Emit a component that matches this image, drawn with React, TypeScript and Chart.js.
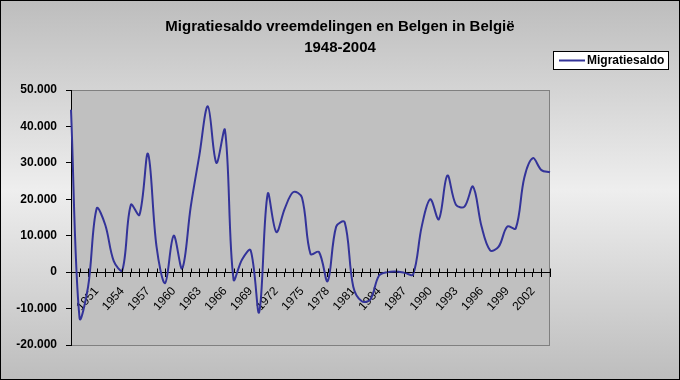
import React, { useEffect, useRef } from 'react';
import { Chart, registerables } from 'chart.js';

Chart.register(...registerables);

const years: string[] = [
  '1948', '1949', '1950', '1951', '1952', '1953', '1954', '1955', '1956', '1957',
  '1958', '1959', '1960', '1961', '1962', '1963', '1964', '1965', '1966', '1967',
  '1968', '1969', '1970', '1971', '1972', '1973', '1974', '1975', '1976', '1977',
  '1978', '1979', '1980', '1981', '1982', '1983', '1984', '1985', '1986', '1987',
  '1988', '1989', '1990', '1991', '1992', '1993', '1994', '1995', '1996', '1997',
  '1998', '1999', '2000', '2001', '2002', '2003', '2004',
];

const migratiesaldo: number[] = [
  44600, -12600, -4000, 17500, 13000, 3000, 500, 18500, 15700, 32500,
  7000, -3000, 10000, 1000, 18000, 32000, 45500, 30000, 39000, -2000,
  3500, 6000, -11000, 21500, 11000, 17500, 22000, 20500, 5000, 5500,
  -2500, 12500, 13700, -4000, -8000, -7500, -1000, 0, 200, -200,
  -600, 12500, 20000, 14500, 26500, 18500, 18000, 23500, 12500, 6000,
  7000, 12500, 12000, 26000, 31300, 28000, 27400,
];

const labeledYears: string[] = [
  '1951', '1954', '1957', '1960', '1963', '1966', '1969', '1972', '1975', '1978',
  '1981', '1984', '1987', '1990', '1993', '1996', '1999', '2002',
];

const titleLines: string[] = ['Migratiesaldo vreemdelingen en Belgen in België', '1948-2004'];
const seriesName = 'Migratiesaldo';
const yMin = -20000;
const yMax = 50000;
const yStep = 10000;

const FONT = '"Liberation Sans", Arial, sans-serif';
const LINE_COLOR = '#333399';

const decor = {
  id: 'decor',
  beforeDraw(chart: any) {
    const { ctx, width, height, chartArea: a } = chart;
    ctx.save();
    const g = ctx.createLinearGradient(0, 0, 0, height);
    g.addColorStop(0, '#bdbdbd');
    g.addColorStop(0.5, '#eeeeee');
    g.addColorStop(1, '#bdbdbd');
    ctx.fillStyle = g;
    ctx.fillRect(0, 0, width, height);
    ctx.fillStyle = '#c0c0c0';
    ctx.fillRect(a.left, a.top, a.right - a.left, a.bottom - a.top);
    ctx.strokeStyle = '#808080';
    ctx.lineWidth = 1;
    ctx.strokeRect(a.left + 0.5, a.top + 0.5, a.right - a.left - 1, a.bottom - a.top);
    ctx.restore();
  },
  afterDraw(chart: any) {
    const { ctx, width, height } = chart;
    const xs = chart.scales.x;
    const ys = chart.scales.y;
    ctx.save();
    // upper half of cross tick marks on the category axis
    const y0 = Math.round(ys.getPixelForValue(0)) + 0.5;
    ctx.strokeStyle = '#000';
    ctx.lineWidth = 1;
    ctx.beginPath();
    for (let i = 0; i < xs.ticks.length; i++) {
      const x = Math.round(xs.getPixelForTick(i)) + 0.5;
      ctx.moveTo(x, y0 - 4);
      ctx.lineTo(x, y0);
    }
    ctx.stroke();

    // title
    ctx.fillStyle = '#000';
    ctx.textAlign = 'center';
    ctx.textBaseline = 'alphabetic';
    ctx.font = `bold 15px ${FONT}`;
    ctx.fillText(titleLines[0], width / 2, 31);
    ctx.fillText(titleLines[1], width / 2, 52);

    // legend
    ctx.fillStyle = '#ffffff';
    ctx.fillRect(553, 51, 115, 18);
    ctx.strokeStyle = '#000';
    ctx.strokeRect(553.5, 51.5, 115, 18);
    ctx.strokeStyle = LINE_COLOR;
    ctx.lineWidth = 2;
    ctx.beginPath();
    ctx.moveTo(559, 60.5);
    ctx.lineTo(585, 60.5);
    ctx.stroke();
    ctx.fillStyle = '#000';
    ctx.textAlign = 'left';
    ctx.textBaseline = 'middle';
    ctx.font = `bold 12px ${FONT}`;
    ctx.fillText(seriesName, 587, 61);

    // outer border
    ctx.strokeStyle = '#000';
    ctx.lineWidth = 1;
    ctx.strokeRect(0.5, 0.5, width - 1, height - 1);
    ctx.restore();
  },
};

export default function App() {
  const ref = useRef<HTMLCanvasElement | null>(null);

  useEffect(() => {
    if (!ref.current) return;
    const chart = new Chart(ref.current, {
      type: 'line',
      data: {
        labels: years,
        datasets: [
          {
            label: seriesName,
            data: migratiesaldo,
            borderColor: LINE_COLOR,
            backgroundColor: LINE_COLOR,
            borderWidth: 2,
            pointRadius: 0,
            tension: 0.35,
            fill: false,
          },
        ],
      },
      options: {
        responsive: false,
        animation: false,
        devicePixelRatio: 1,
        layout: { padding: { top: 90, right: 130, bottom: 35, left: 0 } },
        plugins: {
          legend: { display: false },
          title: { display: false },
          tooltip: { enabled: false },
        },
        scales: {
          x: {
            type: 'category',
            position: { y: 0 } as any,
            offset: false,
            grid: {
              display: true,
              drawOnChartArea: false,
              drawTicks: true,
              tickLength: 4,
              color: '#000',
            },
            border: { display: true, color: '#000', width: 1 },
            ticks: {
              autoSkip: false,
              minRotation: 48,
              maxRotation: 48,
              padding: 8,
              color: '#000',
              font: { family: FONT, size: 12 },
              callback: (_v: any, i: number) => (labeledYears.includes(years[i]) ? years[i] : ''),
            },
          },
          y: {
            min: yMin,
            max: yMax,
            afterFit: (s: any) => {
              s.width = 71;
            },
            grid: {
              display: true,
              drawOnChartArea: false,
              drawTicks: true,
              tickLength: 5,
              color: '#000',
            },
            border: { display: true, color: '#000', width: 1 },
            ticks: {
              stepSize: yStep,
              padding: 9,
              color: '#000',
              font: { family: FONT, size: 12, weight: 'bold' },
              callback: (v: any) => Number(v).toLocaleString('de-DE'),
            },
          },
        },
      },
      plugins: [decor],
    });
    return () => chart.destroy();
  }, []);

  return (
    <div style={{ position: 'fixed', left: 0, top: 0, width: 680, height: 380 }}>
      <canvas ref={ref} width={680} height={380} />
    </div>
  );
}
